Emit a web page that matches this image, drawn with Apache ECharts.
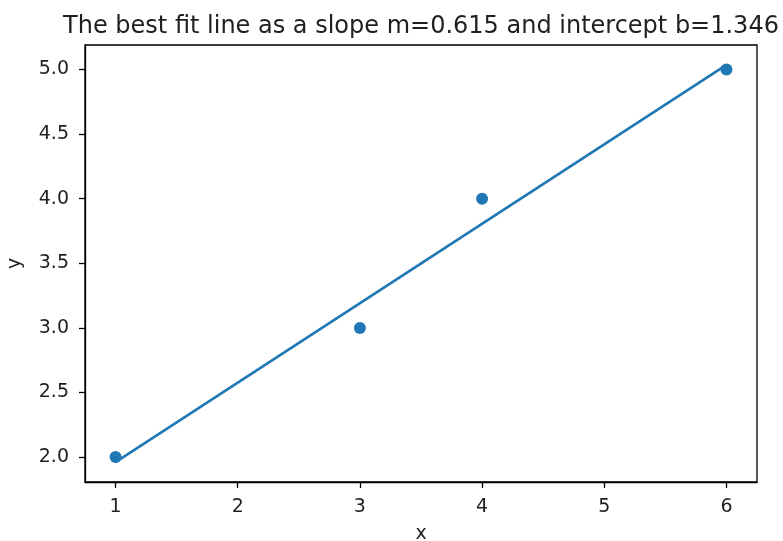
<!DOCTYPE html>
<html>
<head>
<meta charset="utf-8">
<script src="https://cdn.jsdelivr.net/npm/echarts@6/dist/echarts.min.js"></script>
<style>
    html, body { margin: 0; padding: 0; background: #fff; }
    #chart { width: 783px; height: 541px; }
</style>
</head>
<body>
<div id="chart"></div>
<script>
// Data
var pointX = [1, 3, 4, 6];
var pointY = [2, 3, 4, 5];

// Best fit line endpoints (m=0.615, b=1.346)
var fitX = [1, 6];
var fitY = [1.961, 5.036];

// Tick labels
var xTicks = [1, 2, 3, 4, 5, 6];
var yTicks = [2.0, 2.5, 3.0, 3.5, 4.0, 4.5, 5.0];

var titleText = 'The best fit line as a slope m=0.615 and intercept b=1.346';

window.onload = init;

function init() {
    var chart = echarts.init(document.getElementById('chart'), null, { renderer: 'canvas' });

    var font = 'DejaVu Sans';
    var textColor = '#1f1f1f';

    var scatterData = pointX.map(function(x, i) { return [x, pointY[i]]; });
    var lineData = fitX.map(function(x, i) { return [x, fitY[i]]; });

    var option = {
        backgroundColor: '#fff',
        animation: false,
        title: {
            text: titleText,
            left: 416,
            top: 10,
            textAlign: 'center',
            textStyle: { fontFamily: font, fontSize: 24, fontWeight: 'normal', color: textColor }
        },
        grid: { left: 85, right: 26, top: 45, bottom: 59, containLabel: false, outerBoundsMode: 'none' },
        xAxis: {
            type: 'value',
            min: 0.75,
            max: 6.25,
            name: 'x',
            nameLocation: 'middle',
            nameGap: 43,
            nameTextStyle: { fontFamily: font, fontSize: 19, color: textColor },
            axisLine: { show: true, onZero: false, lineStyle: { color: '#000', width: 1.3 } },
            axisTick: { show: true, customValues: xTicks, length: 6, lineStyle: { color: '#000', width: 1.3 } },
            axisLabel: {
                customValues: xTicks, margin: 16,
                fontFamily: font, fontSize: 19, color: textColor,
                formatter: function(v) { return String(v); }
            },
            splitLine: { show: false }
        },
        yAxis: {
            type: 'value',
            min: 1.807,
            max: 5.19,
            name: 'y',
            nameLocation: 'middle',
            nameGap: 60,
            nameRotate: 90,
            nameTextStyle: { fontFamily: font, fontSize: 19, color: textColor },
            axisLine: { show: true, onZero: false, lineStyle: { color: '#000', width: 1.3 } },
            axisTick: { show: true, customValues: yTicks, length: 6, lineStyle: { color: '#000', width: 1.3 } },
            axisLabel: {
                customValues: yTicks, margin: 16,
                fontFamily: font, fontSize: 19, color: textColor,
                formatter: function(v) { return v.toFixed(1); }
            },
            splitLine: { show: false }
        },
        series: [
            {
                type: 'line',
                data: lineData,
                showSymbol: false,
                lineStyle: { color: '#1f77b4', width: 2.6 },
                z: 2
            },
            {
                type: 'scatter',
                data: scatterData,
                symbol: 'circle',
                symbolSize: 12,
                itemStyle: { color: '#1f77b4', opacity: 1 },
                z: 3
            }
        ],
        graphic: [
            // top and right spines of the matplotlib frame
            {
                type: 'rect',
                shape: { x: 85, y: 45, width: 672, height: 437 },
                style: { fill: null, stroke: '#000', lineWidth: 1.3 },
                silent: true,
                z: 1
            }
        ]
    };

    chart.setOption(option);
}
</script>
</body>
</html>
